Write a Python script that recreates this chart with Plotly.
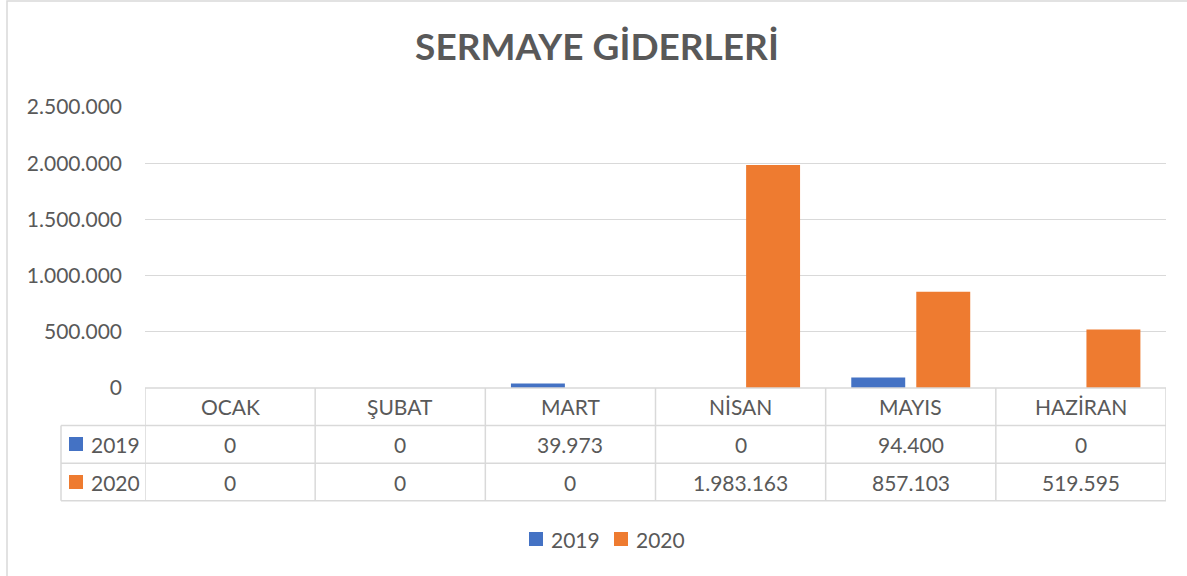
import plotly.graph_objects as go

# ---- data ----
months = ["OCAK", "ŞUBAT", "MART", "NİSAN", "MAYIS", "HAZİRAN"]
series_names = ["2019", "2020"]
values_2019 = [0, 0, 39973, 0, 94400, 0]
values_2020 = [0, 0, 0, 1983163, 857103, 519595]
y_tick_vals = [0, 500000, 1000000, 1500000, 2000000, 2500000]
title_text = "SERMAYE GİDERLERİ"

# ---- style ----
W, H = 1187, 576
ML, MR, MT, MB = 145, 21, 107, 188
PW, PH = W - ML - MR, H - MT - MB
ROW_PX = 37.6
TABLE_LEFT_PX = 61
FONT = "Lato"
TXT = "#595959"
GRID = "#D9D9D9"
COLORS = ["#4472C4", "#EE7B30"]
FS = 21
SQ = 14  # swatch size
LEGEND_SQ_X_PX = [536, 621]
LEGEND_Y_PX = 539
ROW_SQ_X_PX = 76


def py(px_below):
    """pixel distance below plot bottom -> paper y"""
    return -px_below / PH


def py_abs(px):
    """absolute pixel y -> paper y"""
    return ((MT + PH) - px) / PH


def px_x(px):
    """absolute pixel x -> paper x"""
    return (px - ML) / PW


def fmt(v):
    return f"{v:,}".replace(",", ".")


def swatch_pair(col, name, cx_px, y_paper):
    return [
        dict(x=px_x(cx_px), xref="paper", y=y_paper, yref="paper", text=" ", showarrow=False,
             xanchor="center", yanchor="middle", width=SQ, height=SQ, bgcolor=col, borderpad=0,
             borderwidth=0, font=dict(size=2)),
        dict(x=px_x(cx_px + SQ / 2 + 6), xref="paper", y=y_paper, yref="paper", text=name, showarrow=False,
             xanchor="left", yanchor="middle", font=dict(family=FONT, size=FS, color=TXT)),
    ]


fig = go.Figure()
for name, vals, col in zip(series_names, [values_2019, values_2020], COLORS):
    fig.add_trace(go.Bar(x=months, y=vals, name=name, showlegend=False,
                         marker=dict(color=col, line=dict(width=0))))

shapes = []
line_style = dict(color=GRID, width=1.5)
n = len(months)
# horizontal table lines
shapes.append(dict(type="line", xref="paper", yref="paper", x0=0, x1=1, y0=0, y1=0, line=line_style))
for k in range(1, 4):
    shapes.append(dict(type="line", xref="paper", yref="paper", x0=px_x(TABLE_LEFT_PX), x1=1,
                       y0=py(k * ROW_PX), y1=py(k * ROW_PX), line=line_style))
# vertical table lines
for i in range(n + 1):
    shapes.append(dict(type="line", xref="x", yref="paper", x0=i - 0.5, x1=i - 0.5,
                       y0=0, y1=py(3 * ROW_PX), line=line_style))
shapes.append(dict(type="line", xref="paper", yref="paper", x0=px_x(TABLE_LEFT_PX), x1=px_x(TABLE_LEFT_PX),
                   y0=py(ROW_PX), y1=py(3 * ROW_PX), line=line_style))
# chart frame (left and top edges visible)
shapes.append(dict(type="rect", xref="paper", yref="paper", x0=px_x(7), x1=px_x(W + 20),
                   y0=py_abs(H + 20), y1=py_abs(1), line=dict(color=GRID, width=1.5)))

annotations = []
tf = dict(family=FONT, size=FS, color=TXT)
for i, m in enumerate(months):
    annotations.append(dict(x=i, xref="x", y=py(0.5 * ROW_PX), yref="paper", text=m, showarrow=False,
                            xanchor="center", yanchor="middle", font=tf))
for r, (name, vals, col) in enumerate(zip(series_names, [values_2019, values_2020], COLORS), start=1):
    annotations += swatch_pair(col, name, ROW_SQ_X_PX, py((r + 0.5) * ROW_PX))
    for i, v in enumerate(vals):
        annotations.append(dict(x=i, xref="x", y=py((r + 0.5) * ROW_PX), yref="paper", text=fmt(v),
                                showarrow=False, xanchor="center", yanchor="middle", font=tf))
# legend
for name, col, lx in zip(series_names, COLORS, LEGEND_SQ_X_PX):
    annotations += swatch_pair(col, name, lx, py_abs(LEGEND_Y_PX))

fig.update_layout(
    width=W, height=H,
    margin=dict(l=ML, r=MR, t=MT, b=MB),
    paper_bgcolor="white", plot_bgcolor="white",
    separators=",.",
    showlegend=False,
    title=dict(text=title_text, x=597 / W, xref="container", xanchor="center",
               y=1 - 47 / H, yref="container", yanchor="middle",
               font=dict(family=FONT, size=37, color=TXT, weight="bold")),
    barmode="group", bargap=0.236, bargroupgap=0.17,
    xaxis=dict(type="category", range=[-0.5, n - 0.5], showticklabels=False, showgrid=False,
               zeroline=False, showline=False, ticks=""),
    yaxis=dict(range=[0, 2500000], tickvals=y_tick_vals, tickformat=",d", showgrid=True,
               gridcolor=GRID, gridwidth=1.3, zeroline=False, showline=False, ticks="",
               ticklabelstandoff=22, tickfont=dict(family=FONT, size=FS, color=TXT)),
    shapes=shapes,
    annotations=annotations,
)

fig.write_html("out.html", config={"displayModeBar": False},
               post_script="document.body.style.margin='0';")
